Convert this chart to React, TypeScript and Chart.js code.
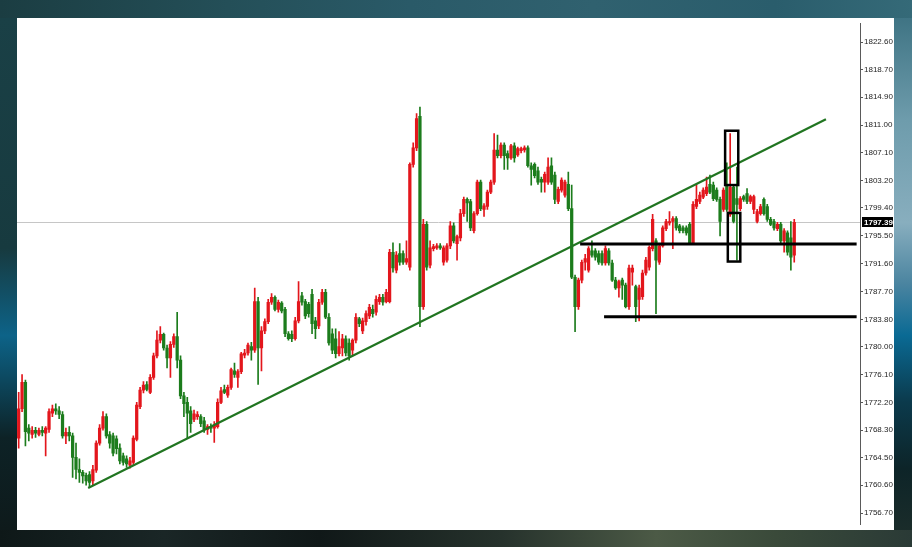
import React, { useEffect, useRef } from 'react';
import { Chart, registerables } from 'chart.js';

Chart.register(...registerables);

// ---- data (prices) ----
const opens = [
  1767.2,1771.3,1775.0,1768.6,1767.7,1768.3,1767.7,1768.3,1767.9,1768.4,
  1770.7,1771.3,1771.0,1770.5,1767.5,1768.0,1767.5,1764.5,1762.8,1762.4,
  1762.0,1762.1,1761.2,1762.7,1766.5,1768.6,1770.2,1767.7,1767.5,1767.1,
  1765.8,1764.7,1764.3,1763.4,1763.8,1767.0,1771.6,1773.9,1774.7,1773.6,
  1775.7,1778.7,1780.9,1781.7,1779.8,1778.4,1780.3,1781.4,1778.1,1773.1,
  1772.2,1771.0,1769.8,1770.2,1770.2,1769.6,1768.4,1768.8,1768.6,1768.8,
  1772.2,1774.0,1773.2,1774.3,1776.6,1775.7,1776.5,1778.8,1779.1,1780.0,
  1779.5,1786.3,1779.8,1782.2,1783.5,1786.2,1786.9,1785.2,1786.1,1785.2,
  1781.8,1781.7,1781.1,1783.6,1787.1,1786.3,1785.9,1787.3,1783.6,1782.9,
  1786.2,1787.6,1784.1,1781.8,1781.1,1779.0,1779.8,1781.1,1780.5,1779.5,
  1780.9,1783.9,1782.2,1783.5,1784.3,1785.2,1784.8,1786.3,1786.9,1786.3,
  1786.3,1793.2,1790.7,1793.0,1793.0,1791.8,1791.1,1805.5,1807.8,1812.2,
  1785.6,1797.1,1791.4,1793.7,1793.8,1794.1,1791.8,1792.1,1794.1,1796.9,
  1794.4,1795.2,1798.6,1800.6,1800.3,1796.2,1798.6,1803.0,1799.2,1799.6,
  1801.6,1803.0,1807.5,1806.7,1808.2,1807.0,1806.4,1808.1,1806.8,1807.4,
  1807.5,1807.8,1805.3,1805.5,1804.6,1803.4,1803.0,1803.0,1805.3,1804.0,
  1800.3,1801.9,1801.2,1802.7,1799.3,1789.7,1785.6,1789.3,1791.8,1790.7,
  1793.4,1793.4,1793.0,1793.0,1791.7,1793.4,1791.7,1789.3,1788.2,1789.3,
  1788.6,1785.6,1790.4,1788.4,1786.6,1787.0,1790.3,1791.1,1793.7,1794.8,
  1791.8,1794.1,1796.5,1797.3,1797.5,1797.9,1796.9,1796.6,1796.6,1797.1,
  1794.5,1799.6,1800.3,1800.9,1801.4,1802.7,1802.6,1801.9,1800.6,1799.2,
  1802.7,1798.5,1802.3,1800.7,1799.3,1801.0,1801.4,1800.3,1799.2,1797.5,
  1798.6,1800.6,1799.6,1797.8,1797.5,1796.5,1797.1,1794.8,1795.9,1795.2,1792.8,
];
const highs = [
  1773.6,1776.1,1775.3,1769.1,1768.8,1768.7,1768.6,1768.8,1768.8,1771.3,
  1771.8,1772.0,1771.6,1770.9,1768.6,1768.8,1767.9,1766.5,1764.3,1762.7,
  1762.3,1762.5,1763.4,1766.8,1769.1,1770.9,1770.6,1768.1,1767.9,1767.5,
  1766.4,1765.1,1764.7,1764.5,1767.5,1772.2,1774.3,1775.1,1775.1,1776.1,
  1779.1,1782.2,1782.8,1781.9,1780.2,1780.7,1781.8,1784.8,1778.7,1773.6,
  1772.9,1771.6,1771.1,1770.9,1770.5,1770.1,1769.1,1769.2,1769.5,1772.7,
  1774.3,1774.6,1774.6,1777.0,1777.7,1776.8,1779.2,1779.6,1780.5,1780.6,
  1788.2,1786.9,1782.8,1783.9,1786.6,1787.4,1787.1,1786.5,1786.3,1785.5,
  1782.1,1782.2,1784.1,1789.1,1787.6,1786.6,1786.2,1788.0,1784.1,1786.6,
  1788.0,1788.0,1784.6,1782.5,1782.5,1782.1,1781.7,1781.5,1781.1,1781.1,
  1784.6,1784.1,1784.0,1785.0,1785.9,1785.8,1787.1,1787.3,1787.3,1788.0,
  1793.6,1794.5,1793.3,1794.4,1793.4,1794.8,1805.7,1808.5,1812.6,1813.5,
  1797.8,1797.5,1794.8,1794.3,1794.4,1794.4,1794.1,1794.4,1797.5,1797.3,
  1795.6,1799.2,1800.9,1800.8,1800.6,1798.9,1803.3,1803.3,1800.0,1801.9,
  1803.3,1809.8,1809.6,1808.5,1808.5,1807.4,1808.3,1808.5,1807.9,1807.9,
  1808.1,1808.1,1805.7,1805.7,1805.1,1803.7,1804.4,1806.4,1806.4,1804.4,
  1802.3,1803.6,1803.3,1804.4,1802.6,1790.0,1789.6,1792.1,1792.9,1794.0,
  1794.8,1793.7,1793.4,1793.4,1794.1,1793.7,1792.1,1789.7,1789.3,1789.6,
  1788.9,1791.4,1791.4,1788.6,1788.6,1790.7,1792.5,1794.1,1798.5,1795.1,
  1794.4,1796.9,1797.8,1798.9,1798.2,1798.2,1797.1,1796.9,1796.9,1797.4,
  1800.3,1802.7,1801.6,1802.2,1803.7,1804.0,1803.0,1802.2,1800.9,1802.2,
  1805.7,1809.8,1802.6,1805.1,1801.0,1801.2,1802.1,1801.2,1801.2,1799.2,
  1799.9,1800.8,1799.9,1798.1,1797.8,1797.4,1797.4,1796.5,1796.2,1797.5,1797.8,
];
const lows = [
  1765.8,1770.9,1766.1,1766.8,1767.2,1767.3,1767.5,1767.5,1764.7,1768.0,
  1770.2,1770.5,1769.9,1767.2,1766.4,1766.8,1761.7,1761.5,1761.0,1760.9,
  1760.6,1760.4,1760.6,1762.4,1766.2,1768.3,1767.2,1765.8,1764.7,1765.0,
  1763.6,1763.4,1763.1,1763.0,1763.5,1766.8,1771.3,1773.5,1773.8,1773.4,
  1775.4,1778.4,1780.5,1779.5,1777.0,1775.7,1779.9,1777.0,1772.7,1770.2,
  1767.2,1768.0,1769.5,1769.8,1768.8,1768.0,1767.7,1768.0,1766.6,1768.6,
  1772.0,1773.4,1772.9,1774.0,1775.7,1774.3,1776.2,1778.4,1778.8,1778.1,
  1779.2,1774.7,1776.6,1781.8,1783.2,1785.9,1785.0,1784.8,1784.7,1781.4,
  1780.9,1780.7,1780.9,1783.3,1785.8,1783.9,1784.1,1781.8,1781.1,1782.5,
  1785.9,1783.9,1780.2,1779.0,1778.4,1778.7,1778.7,1778.7,1778.1,1778.7,
  1780.5,1782.8,1781.8,1783.0,1783.9,1784.1,1784.4,1785.9,1785.8,1786.1,
  1786.1,1790.4,1790.3,1791.4,1791.5,1791.5,1790.7,1805.1,1807.4,1782.8,
  1785.2,1790.7,1791.0,1793.4,1793.6,1793.6,1791.4,1791.8,1793.7,1794.5,
  1792.1,1794.8,1798.2,1797.5,1796.2,1795.9,1798.4,1799.0,1798.2,1799.2,
  1801.4,1802.7,1806.4,1806.4,1804.8,1804.8,1806.2,1805.8,1806.6,1807.1,
  1807.2,1805.1,1802.6,1803.6,1802.7,1801.6,1801.6,1802.7,1802.7,1800.0,
  1800.0,1801.6,1800.9,1799.0,1789.5,1782.1,1785.2,1788.9,1790.7,1790.4,
  1792.5,1792.1,1791.5,1791.4,1791.4,1791.4,1789.1,1788.0,1786.9,1786.6,
  1785.4,1785.2,1788.6,1783.5,1783.6,1786.6,1790.0,1790.7,1793.4,1784.6,
  1791.5,1793.9,1796.2,1797.0,1793.7,1796.3,1795.9,1795.9,1795.6,1794.3,
  1794.3,1799.3,1800.0,1800.7,1801.1,1801.4,1800.4,1800.3,1795.5,1798.9,
  1798.9,1798.2,1797.3,1792.1,1799.0,1800.3,1800.0,1800.0,1798.6,1797.3,
  1798.4,1798.4,1797.5,1796.9,1796.3,1796.2,1794.5,1793.2,1792.8,1790.7,1791.8,
];
const closes = [
  1771.3,1775.0,1768.1,1767.9,1768.3,1767.9,1768.3,1768.0,1768.6,1770.9,
  1771.3,1771.0,1770.5,1767.5,1768.0,1767.5,1764.5,1762.8,1762.4,1761.9,
  1761.2,1761.0,1762.8,1766.5,1768.6,1770.2,1767.5,1766.5,1765.1,1765.7,
  1764.0,1763.8,1763.6,1764.0,1767.2,1771.8,1773.9,1774.6,1774.0,1775.7,
  1778.7,1780.9,1781.7,1779.8,1778.4,1780.3,1781.4,1778.1,1773.1,1772.0,
  1770.7,1769.2,1770.6,1770.5,1769.2,1768.4,1768.8,1768.6,1769.0,1772.2,
  1773.8,1773.6,1774.3,1776.8,1776.1,1776.5,1779.0,1779.1,1780.2,1779.5,
  1786.3,1779.8,1782.2,1783.5,1786.2,1786.9,1785.2,1786.2,1785.0,1781.8,
  1781.1,1781.1,1783.6,1786.3,1786.2,1784.3,1784.6,1783.2,1782.5,1786.2,
  1787.6,1784.1,1780.5,1779.5,1779.0,1780.0,1781.1,1779.1,1778.7,1780.9,
  1784.1,1783.2,1783.6,1784.6,1785.5,1784.6,1786.6,1786.9,1786.2,1787.6,
  1793.2,1791.0,1792.8,1791.8,1791.8,1792.3,1805.5,1807.8,1811.9,1785.6,
  1797.1,1791.1,1793.8,1794.0,1794.1,1793.8,1793.8,1794.1,1796.9,1794.8,
  1795.4,1798.6,1800.6,1800.1,1796.6,1798.6,1803.0,1799.3,1799.7,1801.6,
  1803.0,1807.5,1806.7,1808.2,1806.7,1806.4,1808.1,1806.4,1807.7,1807.7,
  1807.8,1805.3,1804.8,1803.9,1803.0,1803.0,1804.1,1805.1,1803.0,1800.6,
  1802.0,1803.3,1803.0,1799.3,1789.7,1785.6,1789.3,1791.8,1792.3,1793.7,
  1792.8,1792.5,1791.8,1791.7,1793.7,1791.7,1789.3,1788.2,1789.1,1788.6,
  1785.6,1791.0,1791.0,1785.6,1788.2,1790.3,1792.1,1793.9,1797.8,1792.1,
  1794.1,1796.6,1797.5,1797.5,1797.9,1796.6,1796.2,1796.2,1795.9,1794.5,
  1799.9,1800.6,1801.2,1801.9,1802.3,1801.6,1800.7,1800.6,1797.5,1801.9,
  1799.2,1802.3,1797.5,1799.9,1800.7,1800.6,1800.3,1801.0,1801.0,1798.9,
  1799.6,1798.6,1797.8,1797.1,1796.6,1797.1,1794.8,1796.2,1793.2,1792.5,1797.39,
];

const slotCount = 250; // bar slots on the time axis (the last ones are empty)
const tickLabels = [
  '1822.60','1818.70','1814.90','1811.00','1807.10','1803.20','1799.40','1795.50','1791.60',
  '1787.70','1783.80','1780.00','1776.10','1772.20','1768.30','1764.50','1760.60','1756.70',
];
const priceMin = 1755.15;
const priceMax = 1825.16;
const currentPrice = 1797.39;

// annotations in data coordinates: [barIndex, price]
const trendStart = [20.6, 1760.2];
const trendEnd = [239.4, 1811.8];
// horizontal levels: [startIndex, endIndex, price]
const levelLines = [
  [166.5, 248.5, 1794.36],
  [173.6, 248.5, 1784.18],
];
// boxes: [startIndex, endIndex, topPrice, bottomPrice]
const boxes = [
  [209.5, 213.4, 1810.2, 1802.6],
  [210.3, 214.0, 1798.7, 1791.9],
];

const UP = '#e3161c';
const DOWN = '#1c7c1c';

const overlayPlugin = {
  id: 'overlayPlugin',
  beforeDatasetsDraw(chart: any) {
    const { ctx, chartArea, scales } = chart;
    const py = Math.round(scales.y.getPixelForValue(currentPrice)) + 0.5;
    ctx.save();
    ctx.strokeStyle = '#c6c6c6';
    ctx.lineWidth = 1;
    ctx.beginPath();
    ctx.moveTo(chartArea.left, py);
    ctx.lineTo(chartArea.right, py);
    ctx.stroke();
    ctx.restore();
  },
  afterDatasetsDraw(chart: any) {
    const { ctx, chartArea, scales } = chart;
    const xs = scales.x;
    const ys = scales.y;
    ctx.save();
    ctx.beginPath();
    ctx.rect(chartArea.left, chartArea.top, chartArea.right - chartArea.left, chartArea.bottom - chartArea.top);
    ctx.clip();
    // trend line
    ctx.strokeStyle = '#217521';
    ctx.lineWidth = 2.2;
    ctx.beginPath();
    ctx.moveTo(xs.getPixelForValue(trendStart[0]), ys.getPixelForValue(trendStart[1]));
    ctx.lineTo(xs.getPixelForValue(trendEnd[0]), ys.getPixelForValue(trendEnd[1]));
    ctx.stroke();
    // levels
    ctx.strokeStyle = '#000';
    ctx.lineWidth = 3;
    levelLines.forEach(([a, b, p]) => {
      const y = ys.getPixelForValue(p);
      ctx.beginPath();
      ctx.moveTo(xs.getPixelForValue(a), y);
      ctx.lineTo(xs.getPixelForValue(b), y);
      ctx.stroke();
    });
    // boxes
    ctx.lineWidth = 2.5;
    boxes.forEach(([a, b, t, btm]) => {
      const x1 = xs.getPixelForValue(a);
      const x2 = xs.getPixelForValue(b);
      const y1 = ys.getPixelForValue(t);
      const y2 = ys.getPixelForValue(btm);
      ctx.strokeRect(x1, y1, x2 - x1, y2 - y1);
    });
    ctx.restore();
  },
  afterDraw(chart: any) {
    const { ctx, chartArea, scales, width } = chart;
    const py = scales.y.getPixelForValue(currentPrice);
    ctx.save();
    ctx.fillStyle = '#000';
    ctx.fillRect(chartArea.right + 2, Math.round(py) - 5, width - chartArea.right - 3, 10);
    ctx.fillStyle = '#fff';
    ctx.font = 'bold 8px "Liberation Sans"';
    ctx.textBaseline = 'middle';
    ctx.textAlign = 'left';
    ctx.fillText(currentPrice.toFixed(2), chartArea.right + 4, Math.round(py) + 0.5);
    ctx.restore();
  },
};

function CandleChart() {
  const ref = useRef<HTMLCanvasElement | null>(null);
  useEffect(() => {
    if (!ref.current) return;
    const labels = Array.from({ length: slotCount }, (_, i) => String(i));
    const colors = closes.map((c, i) => (c >= opens[i] ? UP : DOWN));
    const chart = new Chart(ref.current, {
      type: 'bar',
      data: {
        labels,
        datasets: [
          {
            data: opens.map((o, i) => [o, closes[i]]),
            backgroundColor: colors,
            barThickness: 2.6,
            minBarLength: 1,
            grouped: false,
            order: 1,
          } as any,
          {
            data: lows.map((l, i) => [l, highs[i]]),
            backgroundColor: colors,
            barThickness: 1,
            grouped: false,
            order: 2,
          } as any,
        ],
      },
      options: {
        animation: false,
        responsive: false,
        devicePixelRatio: 1,
        layout: { padding: 0 },
        plugins: { legend: { display: false }, tooltip: { enabled: false } },
        scales: {
          x: { type: 'category', display: false, offset: true, grid: { display: false } },
          y: {
            position: 'right',
            min: priceMin,
            max: priceMax,
            afterBuildTicks: (s: any) => {
              s.ticks = tickLabels.map((t) => ({ value: parseFloat(t) }));
            },
            afterFit: (s: any) => {
              s.width = 34;
            },
            ticks: {
              callback: (_v: any, idx: number) => tickLabels[idx],
              font: { family: 'Liberation Sans', size: 8 },
              color: '#1e1e1e',
              padding: 1,
              autoSkip: false,
              maxRotation: 0,
            },
            grid: { drawOnChartArea: false, drawTicks: true, tickLength: 3, color: '#555' },
            border: { display: true, color: '#5a5a5a', width: 1 },
          } as any,
        },
      },
      plugins: [overlayPlugin],
    });
    return () => chart.destroy();
  }, []);
  return <canvas ref={ref} width={877} height={512} style={{ display: 'block' }} />;
}

export default function App() {
  return (
    <div
      style={{
        position: 'fixed',
        left: 0,
        top: 0,
        width: 912,
        height: 547,
        overflow: 'hidden',
        background: '#163a40',
      }}
    >
      <div style={{ position: 'absolute', left: 0, top: 0, width: 912, height: 18,
        background: 'linear-gradient(90deg, #1b3d42 0%, #244f58 25%, #2a5a68 45%, #30616f 65%, #2a5d6c 85%, #356a78 100%)' }} />
      <div style={{ position: 'absolute', left: 0, top: 18, width: 17, height: 512,
        background: 'linear-gradient(180deg, #1a4046 0%, #173a3f 45%, #0d6388 62%, #0c4a62 70%, #0d2226 82%, #0e1a1b 100%)' }} />
      <div style={{ position: 'absolute', left: 894, top: 18, width: 18, height: 512,
        background: 'linear-gradient(180deg, #3f7484 0%, #6e9cac 20%, #88aebe 40%, #4a84a0 52%, #0a6a94 62%, #0b3a4c 75%, #0d2428 88%, #1a2c2a 100%)' }} />
      <div style={{ position: 'absolute', left: 0, top: 530, width: 912, height: 17,
        background: 'linear-gradient(90deg, #0e1818 0%, #1a2626 18%, #101818 35%, #26322c 55%, #4c5a46 72%, #3a4a3a 85%, #2a3a36 100%)' }} />
      <div style={{ position: 'absolute', left: 17, top: 18, width: 877, height: 512, background: '#ffffff' }}>
        <CandleChart />
      </div>
    </div>
  );
}
